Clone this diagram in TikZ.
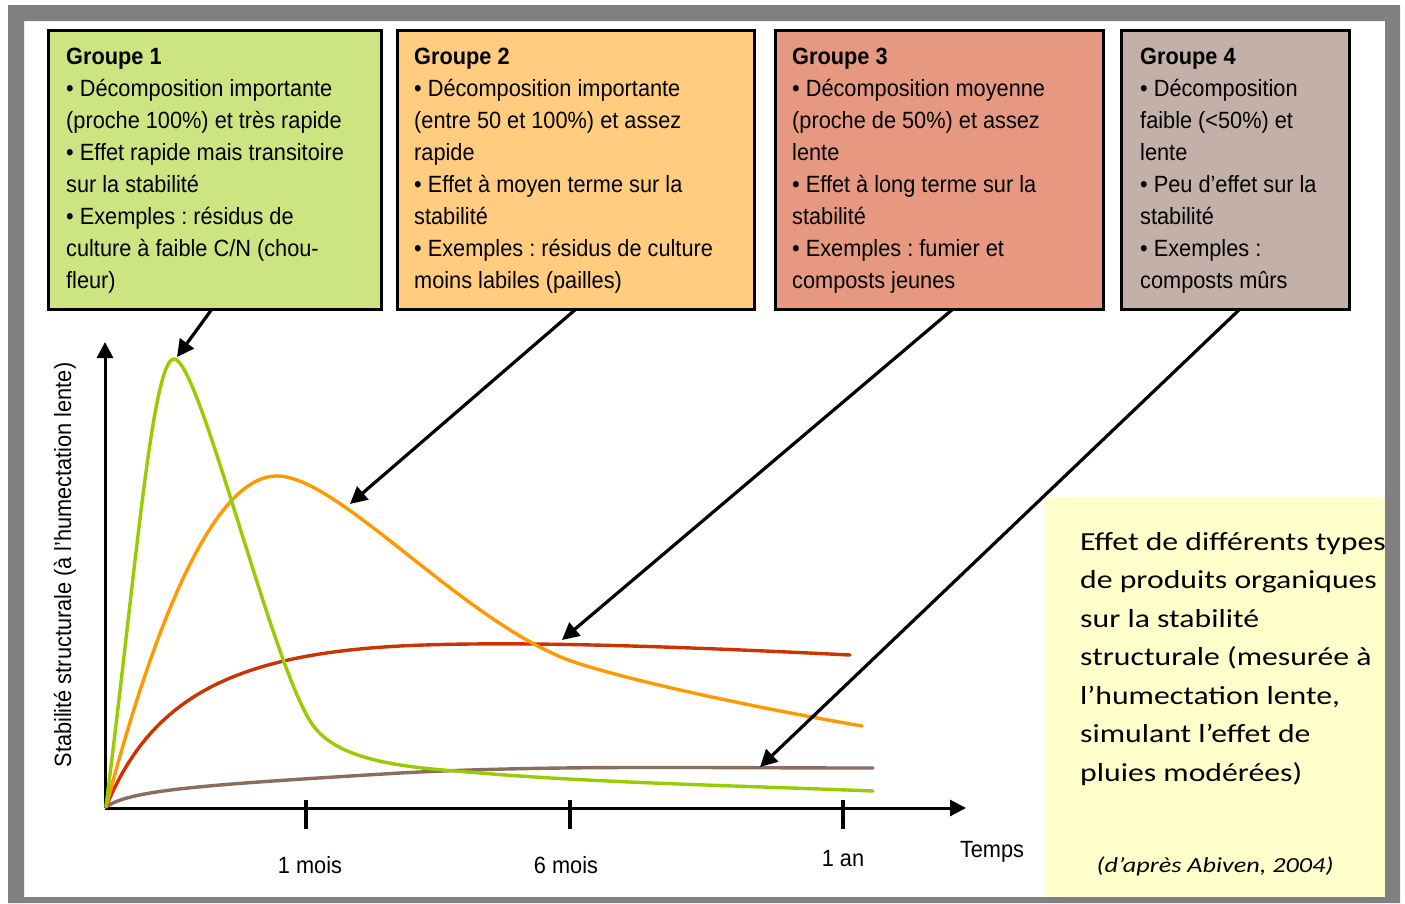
\documentclass[tikz,border=0pt]{standalone}
\usepackage{fontspec}
\setmainfont{Liberation Sans}[FakeStretch=0.925]
\newfontfamily\calib{Carlito}[FakeStretch=1.22]
\usetikzlibrary{arrows.meta}
\frenchspacing
\definecolor{gOne}{RGB}{205,228,130}
\definecolor{gTwo}{RGB}{255,204,128}
\definecolor{gThree}{RGB}{230,153,128}
\definecolor{gFour}{RGB}{195,176,168}
\definecolor{noteyellow}{RGB}{255,255,204}
\definecolor{framegray}{RGB}{128,128,128}
\definecolor{cGreen}{RGB}{153,204,0}
\definecolor{cOrange}{RGB}{255,153,0}
\definecolor{cRed}{RGB}{204,51,0}
\definecolor{cBrown}{RGB}{139,109,96}
\newcommand\bxfont{\fontsize{23.5}{32}\selectfont}
\newcommand\ntfont{\calib\fontsize{26}{38.5}\selectfont}
\tikzset{
  grpbox/.style={draw=black, line width=3pt, anchor=north west, inner sep=0pt},
  grptext/.style={anchor=north west, inner sep=0pt, align=left, font=\bxfont},
  conn/.style={line width=3.2pt, -{Triangle[length=17pt,width=17pt]}},
  axis/.style={line width=3pt, -{Triangle[length=16pt,width=16pt]}},
  curve/.style={line width=3.4pt, line cap=round},
  tick/.style={line width=3.5pt},
  lbl/.style={anchor=base, inner sep=0pt, font=\bxfont}
}
\begin{document}
\begin{tikzpicture}[x=1pt,y=-1pt]
\useasboundingbox (0,0) rectangle (1405,903);
\fill[white] (0,0) rectangle (1405,903);

% yellow note
\node[fill=noteyellow, anchor=north west, inner sep=0pt, minimum width=340, minimum height=400] (note) at (1045,497) {};
\node[anchor=north west, inner sep=0pt, align=left, font=\ntfont] (notetext) at (1080,532)
 {Effet de différents types\\de produits organiques\\sur la stabilité\\structurale (mesurée à\\l’humectation lente,\\simulant l’effet de\\pluies modérées)};
\node[anchor=base, inner sep=0pt, font=\calib\itshape\fontsize{21.5}{25}\selectfont] (cite) at (1215,872) {(d’après Abiven, 2004)};

% boxes
\node[grpbox, fill=gOne, minimum width=333, minimum height=279] (g1) at (46.5,28.5) {};
\node[grpbox, fill=gTwo, minimum width=357, minimum height=279] (g2) at (395.5,28.5) {};
\node[grpbox, fill=gThree, minimum width=328, minimum height=279] (g3) at (773.5,28.5) {};
\node[grpbox, fill=gFour, minimum width=228, minimum height=279] (g4) at (1119.5,28.5) {};

\node[grptext] (t1) at (66,48) {\textbf{Groupe 1}\\• Décomposition importante\\(proche 100\%) et très rapide\\• Effet rapide mais transitoire\\sur la stabilité\\• Exemples : résidus de\\culture à faible C/N (chou-\\fleur)};
\node[grptext] (t2) at (414,48) {\textbf{Groupe 2}\\• Décomposition importante\\(entre 50 et 100\%) et assez\\rapide\\• Effet à moyen terme sur la\\stabilité\\• Exemples : résidus de culture\\moins labiles (pailles)};
\node[grptext] (t3) at (792,48) {\textbf{Groupe 3}\\• Décomposition moyenne\\(proche de 50\%) et assez\\lente\\• Effet à long terme sur la\\stabilité\\• Exemples : fumier et\\composts jeunes};
\node[grptext] (t4) at (1140,48) {\textbf{Groupe 4}\\• Décomposition\\faible (<50\%) et\\lente\\• Peu d’effet sur la\\stabilité\\• Exemples :\\composts mûrs};

% axes
\coordinate (O) at (105,808);
\coordinate (ytop) at (105,342);
\coordinate (xend) at (966,808);
\draw[axis] (O) -- (ytop);
\draw[axis] (O) -- (xend);
\coordinate (k1a) at (306,800); \coordinate (k1b) at (306,829);
\coordinate (k2a) at (570,800); \coordinate (k2b) at (570,829);
\coordinate (k3a) at (843,800); \coordinate (k3b) at (843,829);
\draw[tick] (k1a) -- (k1b);
\draw[tick] (k2a) -- (k2b);
\draw[tick] (k3a) -- (k3b);
\node[lbl] (l1) at (310,873) {1 mois};
\node[lbl] (l2) at (566,873) {6 mois};
\node[lbl] (l3) at (843,866) {1 an};
\node[lbl] (l4) at (992,857) {Temps};
\node[lbl, rotate=90] (ylab) at (71,565) {Stabilité structurale (à l’humectation lente)};

% curves
\draw[curve, cBrown] (106,807) .. controls (130,790) and (200,785) .. (400,773)
  .. controls (550,765) and (700,768) .. (873,768);
\draw[curve, cRed] (106,807) .. controls (150,700) and (230,655) .. (400,646)
  .. controls (500,641) and (650,645) .. (850,655);
\draw[curve, cOrange] (106,807) .. controls (150,640) and (210,476) .. (277,476)
  .. controls (340,476) and (470,630) .. (580,664)
  .. controls (650,686) and (780,712) .. (862,726);
\draw[curve, cGreen] (106,806) .. controls (135,580) and (152,359) .. (174,359)
  .. controls (200,359) and (275,680) .. (315,728)
  .. controls (345,765) and (420,768) .. (480,773)
  .. controls (600,783) and (750,786) .. (873,791);

% connectors
\coordinate (a1) at (212,309); \coordinate (p1) at (177,357);
\coordinate (a2) at (576,309); \coordinate (p2) at (350,504);
\coordinate (a3) at (953,309); \coordinate (p3) at (562,640);
\coordinate (a4) at (1240,309); \coordinate (p4) at (760,767);
\draw[conn] (a1) -- (p1);
\draw[conn] (a2) -- (p2);
\draw[conn] (a3) -- (p3);
\draw[conn] (a4) -- (p4);

% frame
\fill[framegray, even odd rule] (8,5) rectangle (1400,903) (24,21) rectangle (1385,897);
\end{tikzpicture}
\end{document}
